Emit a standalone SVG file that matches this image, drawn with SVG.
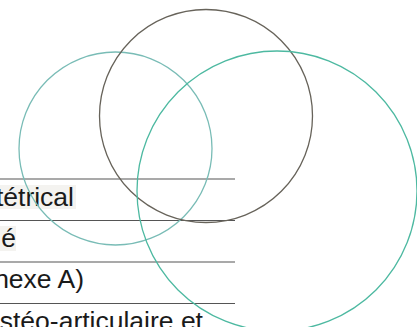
<svg xmlns="http://www.w3.org/2000/svg" width="417" height="327" viewBox="0 0 417 327">
<style>
.rule{stroke:#555;stroke-width:1.2}
.t{font-family:"Liberation Sans",Arial,sans-serif;font-size:26.5px;fill:#1a1a1a;text-anchor:end}
.hl{fill:#f4f3f0}
.c{fill:none;stroke-width:1.3}
</style>
<rect width="417" height="327" fill="#fff"/>
<g id="table">
<rect class="hl" x="0" y="185" width="76" height="24"/>
<rect class="hl" x="0" y="226" width="16" height="25"/>
<line class="rule" x1="0" y1="179" x2="235" y2="179"/>
<line class="rule" x1="0" y1="220.5" x2="235" y2="220.5"/>
<line class="rule" x1="0" y1="262" x2="235" y2="262"/>
<line class="rule" x1="0" y1="303.5" x2="235" y2="303.5"/>
<text class="t" x="74" y="206">tétrical</text>
<text class="t" x="16" y="247">é</text>
<text class="t" x="84" y="288">nexe A)</text>
<text class="t" x="203" y="330">stéo-articulaire et</text>
</g>
<g id="circle-left"><circle class="c" cx="115.5" cy="148.5" r="96.5" stroke="#79bcb6"/></g>
<g id="circle-top"><circle class="c" cx="206" cy="116" r="106.5" stroke="#67635a"/></g>
<g id="circle-right"><circle class="c" cx="277" cy="191" r="140" stroke="#4db9a1"/></g>
</svg>
